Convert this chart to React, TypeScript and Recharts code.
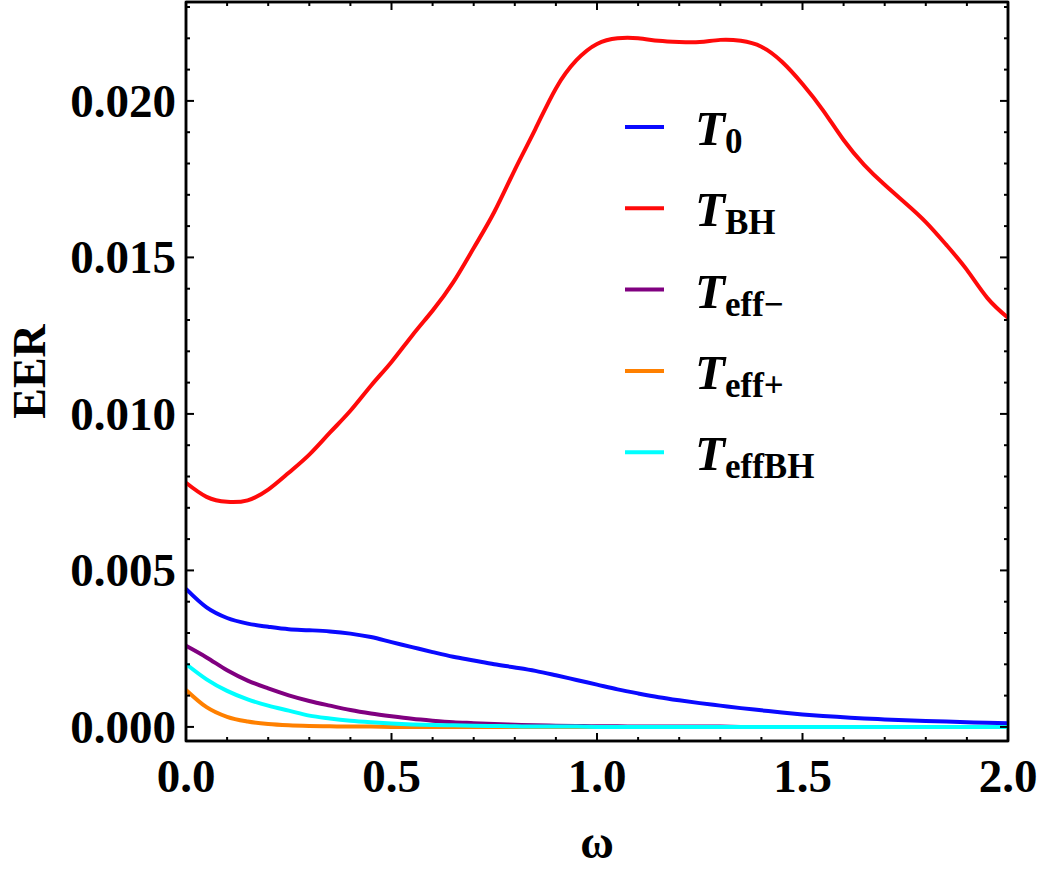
import React from 'react';
import { LineChart, Line, XAxis, YAxis, Legend, Label, ReferenceArea } from 'recharts';

// omega grid and the five EER curves
const omega = [
  0, 0.05, 0.1, 0.15, 0.2, 0.25, 0.3, 0.35, 0.4, 0.45, 0.5, 0.55, 0.6, 0.65, 0.7, 0.75, 0.8, 0.85, 0.9, 0.95,
  1.0, 1.05, 1.1, 1.15, 1.2, 1.25, 1.3, 1.35, 1.4, 1.45, 1.5, 1.55, 1.6, 1.65, 1.7, 1.75, 1.8, 1.85, 1.9, 1.95, 2.0,
];
const t0 = [
  0.00441, 0.00382, 0.00348, 0.0033, 0.0032, 0.00312, 0.00309, 0.00305, 0.00298, 0.00287, 0.00271, 0.00255,
  0.00239, 0.00224, 0.00212, 0.002, 0.0019, 0.00179, 0.00165, 0.0015, 0.00135, 0.0012, 0.00107, 0.00095,
  0.00085, 0.00076, 0.00068, 0.0006, 0.00053, 0.00046, 0.0004, 0.00035, 0.00031, 0.00027, 0.00024, 0.00021,
  0.00019, 0.00017, 0.00015, 0.00013, 0.00012,
];
const tBH = [
  0.0078, 0.00735, 0.00719, 0.00724, 0.00758, 0.00812, 0.0087, 0.0094, 0.0101, 0.0109, 0.01166, 0.0125, 0.0133,
  0.0142, 0.0153, 0.01645, 0.0178, 0.0191, 0.0204, 0.0213, 0.02182, 0.022, 0.022, 0.02192, 0.02188, 0.02188,
  0.02195, 0.02192, 0.02173, 0.02125, 0.02054, 0.0197, 0.01875, 0.01796, 0.01732, 0.01674, 0.01613, 0.0154,
  0.0146, 0.0137, 0.01307,
];
const tEffMinus = [
  0.00259, 0.00222, 0.00181, 0.00148, 0.00123, 0.00101, 0.00083, 0.00068, 0.00054, 0.00043, 0.00034, 0.00026,
  0.0002, 0.00015, 0.00012, 0.00009, 0.00007, 0.00005, 0.00004, 0.00003, 0.00002, 0.00002, 0.00001, 0.00001,
  0.00001, 0.00001, 0.00001, 0, 0, 0, 0, 0, 0, 0, 0, 0, 0, 0, 0, 0, 0,
];
const tEffPlus = [
  0.00118, 0.00063, 0.00032, 0.00017, 0.00009, 0.00005, 0.00003, 0.00002, 0.00001, 0.00001, 0, 0, 0, 0, 0, 0, 0,
  0, 0, 0, 0, 0, 0, 0, 0, 0, 0, 0, 0, 0, 0, 0, 0, 0, 0, 0, 0, 0, 0, 0, 0,
];
const tEffBH = [
  0.00201, 0.00152, 0.00115, 0.00088, 0.00068, 0.00052, 0.00036, 0.00027, 0.0002, 0.00015, 0.00011, 0.00008,
  0.00006, 0.00005, 0.00004, 0.00003, 0.00002, 0.00001, 0.00001, 0.00001, 0, 0, 0, 0, 0, 0, 0, 0, 0, 0, 0, 0,
  0, 0, 0, 0, 0, 0, 0, 0, 0,
];

const xTicks = [0, 0.1, 0.2, 0.3, 0.4, 0.5, 0.6, 0.7, 0.8, 0.9, 1.0, 1.1, 1.2, 1.3, 1.4, 1.5, 1.6, 1.7, 1.8, 1.9, 2.0];
const xMajor = [0, 0.5, 1.0, 1.5, 2.0];
const yTicks = [
  0, 0.001, 0.002, 0.003, 0.004, 0.005, 0.006, 0.007, 0.008, 0.009, 0.01, 0.011, 0.012, 0.013, 0.014, 0.015,
  0.016, 0.017, 0.018, 0.019, 0.02, 0.021, 0.022, 0.023,
];
const yMajor = [0, 0.005, 0.01, 0.015, 0.02];
const X_DOMAIN = [0, 2];
const Y_DOMAIN = [-0.00045, 0.02316];

// the red curve sits on the top/right frame axes (same domains) so their ticks get drawn too
const series = [
  { key: 't0', label: '0', color: '#0a0aff', values: t0, frame: false, curve: 'monotone' },
  { key: 'tBH', label: 'BH', color: '#ff0a0a', values: tBH, frame: true, curve: 'natural' },
  { key: 'tEffMinus', label: 'eff\u2212', color: '#800080', values: tEffMinus, frame: false, curve: 'monotone' },
  { key: 'tEffPlus', label: 'eff+', color: '#ff8000', values: tEffPlus, frame: false, curve: 'monotone' },
  { key: 'tEffBH', label: 'effBH', color: '#00ffff', values: tEffBH, frame: false, curve: 'monotone' },
];

const data = omega.map((w, i) => {
  const row: Record<string, number> = { w };
  series.forEach((s) => {
    row[s.key] = s.values[i];
  });
  return row;
});

const FONT = '"Liberation Serif", "Times New Roman", serif';
const MAJOR = 8;
const MINOR = 4;
const FRAME = { stroke: '#000', strokeWidth: 2.5 };
// top/right axes keep recharts' tickSize + tickMargin, so their tick props sit this far outside the frame
const GAP = 8;

const isMajor = (v: number, majors: number[]) => majors.some((m) => Math.abs(m - v) < 1e-9);

const fmtY = (v: number) => v.toFixed(3);
const fmtX = (v: number) => v.toFixed(1);

const BottomTick = (props: any) => {
  const { x, y, payload } = props;
  const major = isMajor(payload.value, xMajor);
  return (
    <g>
      <line x1={x} x2={x} y1={y} y2={y - (major ? MAJOR : MINOR)} stroke="#000" strokeWidth={2} />
      {major && (
        <text x={x} y={y + 51} textAnchor="middle" fontFamily={FONT} fontWeight="bold" fontSize={47} fill="#000">
          {fmtX(payload.value)}
        </text>
      )}
    </g>
  );
};

const TopTick = (props: any) => {
  const { x, y, payload } = props;
  const major = isMajor(payload.value, xMajor);
  const y0 = y + GAP;
  return <line x1={x} x2={x} y1={y0} y2={y0 + (major ? MAJOR : MINOR)} stroke="#000" strokeWidth={2} />;
};

const LeftTick = (props: any) => {
  const { x, y, payload } = props;
  const major = isMajor(payload.value, yMajor);
  return (
    <g>
      <line x1={x} x2={x + (major ? MAJOR : MINOR)} y1={y} y2={y} stroke="#000" strokeWidth={2} />
      {major && (
        <text x={x - 10} y={y + 16} textAnchor="end" fontFamily={FONT} fontWeight="bold" fontSize={47} fill="#000">
          {fmtY(payload.value)}
        </text>
      )}
    </g>
  );
};

const RightTick = (props: any) => {
  const { x, y, payload } = props;
  const major = isMajor(payload.value, yMajor);
  const x0 = x - GAP;
  return <line x1={x0} x2={x0 - (major ? MAJOR : MINOR)} y1={y} y2={y} stroke="#000" strokeWidth={2} />;
};

const LegendBox = () => {
  const rowH = 81.3;
  return (
    <svg width={260} height={420} style={{ overflow: 'visible' }}>
      {series.map((s, i) => {
        const cy = 41 + i * rowH;
        return (
          <g key={s.key}>
            <line x1={5} x2={44} y1={cy} y2={cy} stroke={s.color} strokeWidth={4} />
            <text x={75} y={cy + 18} fontFamily={FONT} fill="#000">
              <tspan fontSize={49} fontStyle="italic" fontWeight="bold">
                T
              </tspan>
              <tspan fontSize={35} fontWeight="bold" dy={8}>
                {s.label}
              </tspan>
            </text>
          </g>
        );
      })}
    </svg>
  );
};

export default function App() {
  return (
    <div style={{ position: 'absolute', left: 0, top: 0, background: '#fff' }}>
      <LineChart width={1042} height={871} data={data} margin={{ top: 1, right: 33, bottom: 0, left: 0 }}>
        <XAxis
          dataKey="w"
          type="number"
          domain={X_DOMAIN}
          ticks={xTicks}
          interval={0}
          height={130}
          tickSize={0}
          tickMargin={0}
          tickLine={false}
          tick={<BottomTick />}
          axisLine={FRAME}
        >
          <Label
            content={(p: any) => (
              <text
                x={p.viewBox.x + p.viewBox.width / 2}
                y={858}
                textAnchor="middle"
                fontFamily={FONT}
                fontWeight="bold"
                fontSize={46}
              >
                ω
              </text>
            )}
          />
        </XAxis>
        <XAxis
          xAxisId="top"
          dataKey="w"
          type="number"
          orientation="top"
          domain={X_DOMAIN}
          ticks={xTicks}
          interval={0}
          height={1}
          tickSize={6}
          tickMargin={2}
          tickLine={false}
          tick={<TopTick />}
          axisLine={FRAME}
        />
        <YAxis
          type="number"
          domain={Y_DOMAIN}
          ticks={yTicks}
          interval={0}
          width={186}
          tickSize={0}
          tickMargin={0}
          tickLine={false}
          tick={<LeftTick />}
          axisLine={FRAME}
        >
          <Label
            content={(p: any) => (
              <text
                x={45}
                y={p.viewBox.y + p.viewBox.height / 2}
                transform={`rotate(-90 45 ${p.viewBox.y + p.viewBox.height / 2})`}
                textAnchor="middle"
                fontFamily={FONT}
                fontWeight="bold"
                fontSize={46}
              >
                EER
              </text>
            )}
          />
        </YAxis>
        <YAxis
          yAxisId="right"
          type="number"
          orientation="right"
          domain={Y_DOMAIN}
          ticks={yTicks}
          interval={0}
          width={1}
          tickSize={6}
          tickMargin={2}
          tickLine={false}
          tick={<RightTick />}
          axisLine={FRAME}
        />
        {/* plot frame */}
        <ReferenceArea
          x1={X_DOMAIN[0]}
          x2={X_DOMAIN[1]}
          y1={Y_DOMAIN[0]}
          y2={Y_DOMAIN[1]}
          fill="rgba(255,255,255,0)"
          stroke="#000"
          strokeWidth={2.5}
        />
        <Legend
          layout="vertical"
          align="center"
          verticalAlign="middle"
          wrapperStyle={{ left: 620, top: 86, width: 260, height: 420 }}
          content={() => <LegendBox />}
        />
        {series.map((s) => (
          <Line
            key={s.key}
            dataKey={s.key}
            name={s.key}
            xAxisId={s.frame ? 'top' : 0}
            yAxisId={s.frame ? 'right' : 0}
            stroke={s.color}
            strokeWidth={4}
            dot={false}
            type={s.curve as any}
            isAnimationActive={false}
          />
        ))}
      </LineChart>
    </div>
  );
}
